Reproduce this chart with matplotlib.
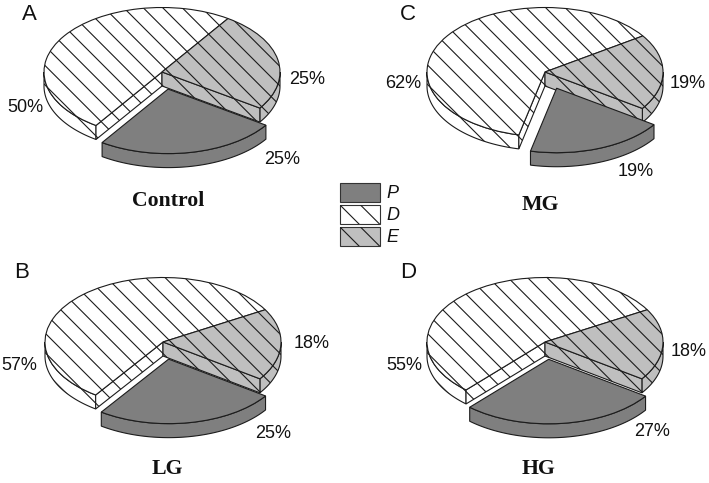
import numpy as np
import matplotlib
matplotlib.use("Agg")
import matplotlib.pyplot as plt
from matplotlib.collections import LineCollection
from matplotlib.patches import Polygon, Rectangle
from matplotlib.transforms import IdentityTransform

plt.rcParams['font.family'] = ['Liberation Sans', 'DejaVu Sans']

# shares in percent
names = ['D', 'P', 'E']
control = [50, 25, 25]
mg = [62, 19, 19]
lg = [57, 25, 18]
hg = [55, 27, 18]

# figure size in pixels and pie geometry
W, H = 709, 483
RX, RY = 118, 64.5
DEPTH = 14 / RY
EXPLODE = 0.27
SPACING = 19.5
INK = '#1c1c1c'
LW = 0.8

colors = {'D': 'white', 'P': '#7f7f7f', 'E': '#bfbfbf'}
hatched = {'D': True, 'P': False, 'E': True}


def add_hatch(ax, patch, spacing, phase, z, box):
    # diagonal lines in display pixels, cut to the shape of the patch
    x0, y0, x1, y1 = box
    segs = []
    for c in np.arange(phase % spacing, W + H, spacing):
        # the lines run on x + y = c, limited to the box
        xa, xb = max(x0, c - y1), min(x1, c - y0)
        if xb > xa:
            segs.append([(xa, c - xa), (xb, c - xb)])
    lines = LineCollection(segs, colors=INK, linewidths=LW, transform=IdentityTransform(), zorder=z)
    ax.add_collection(lines, autolim=False)
    lines.set_clip_path(patch)


def arc(t1, t2, center=(0, 0)):
    t = np.radians(np.linspace(t1, t2, 80))
    return np.column_stack([center[0] + np.cos(t), center[1] + np.sin(t)])


def wall(ax, points, name, z, phase, box):
    low = points[::-1] - [0, DEPTH]
    p = Polygon(np.vstack([points, low]), closed=True, facecolor=colors[name],
                edgecolor=INK, lw=LW, zorder=z)
    ax.add_patch(p)
    if hatched[name]:
        add_hatch(ax, p, SPACING, phase, z + 0.1, box)


def draw_pie(values, start, cx, cy, phase):
    # one axes per pie, squashed so that the pie becomes an ellipse
    span = 1.7
    ax = fig.add_axes([(cx - span * RX) / W, 1 - (cy + span * RY) / H, 2 * span * RX / W, 2 * span * RY / H])
    wedges, _ = ax.pie(values, startangle=start, radius=1, counterclock=True,
                       explode=[EXPLODE if n == 'P' else 0 for n in names],
                       colors=[colors[n] for n in names],
                       wedgeprops={'edgecolor': INK, 'linewidth': LW})
    ax.set_aspect('auto')
    ax.set_xlim(-span, span)
    ax.set_ylim(-span, span)
    box = (cx - span * RX, H - cy - span * RY, cx + span * RX, H - cy + span * RY)

    for name, w in zip(names, wedges):
        z = 3 if name == 'P' else 1
        w.set_zorder(z + 1)
        if hatched[name]:
            add_hatch(ax, w, SPACING, phase, z + 1.1, box)
        # outer rim, only the part that faces the viewer
        lo, hi = max(w.theta1, 180), min(w.theta2, 360)
        if hi > lo:
            wall(ax, arc(lo, hi, w.center), name, z, phase, box)
        # cut faces opened up by the pulled-out slice
        if name == 'D':
            wall(ax, np.vstack([w.center, arc(w.theta2, w.theta2, w.center)[:1]]), name, z, phase, box)
        if name == 'E':
            wall(ax, np.vstack([w.center, arc(w.theta1, w.theta1, w.center)[:1]]), name, z, phase, box)


fig = plt.figure(figsize=(W / 100, H / 100), dpi=100)

draw_pie(control, 56, 162, 72, 560)
draw_pie(mg, 34, 545, 72, 943)
draw_pie(lg, 30, 163, 342, 312)
draw_pie(hg, 30, 545, 342, 694)

# overlay in pixel coordinates for the texts and the key
over = fig.add_axes([0, 0, 1, 1], facecolor='none')
over.set_xlim(0, W)
over.set_ylim(H, 0)
over.axis('off')

for letter, x, y in [('A', 29, 15), ('C', 408, 15), ('B', 22, 273), ('D', 408, 273)]:
    over.text(x, y, letter, fontsize=16, ha='center', va='center', color='#111111')

# label spots follow the order of names
pct_spots = [
    (control, [(25, 108), (282, 160), (307, 80)]),
    (mg, [(403, 84), (636, 171), (688, 83)]),
    (lg, [(19, 366), (273, 433), (312, 344)]),
    (hg, [(404, 366), (652, 431), (689, 351)]),
]
for values, spots in pct_spots:
    for v, (x, y) in zip(values, spots):
        over.text(x, y, '%d%%' % v, fontsize=13, ha='center', va='center', color='#111111')

for title, x, y in [('Control', 168, 201), ('MG', 540, 205), ('LG', 167, 469), ('HG', 539, 469)]:
    over.text(x, y, title, family='Liberation Serif', weight='bold', fontsize=15.7,
              ha='center', va='center', color='#111111')

for name, y in zip(['P', 'D', 'E'], [183, 205, 227]):
    r = Rectangle((340, y), 40, 19, facecolor=colors[name], edgecolor='#333333', lw=LW)
    over.add_patch(r)
    if hatched[name]:
        add_hatch(over, r, 20.5, H - y + 340, 1.5, (335, H - y - 25, 385, H - y + 5))
    over.text(386, y + 10, name, style='italic', fontsize=13, ha='left', va='center', color='#111111')

fig.savefig('out.png', dpi=100)
